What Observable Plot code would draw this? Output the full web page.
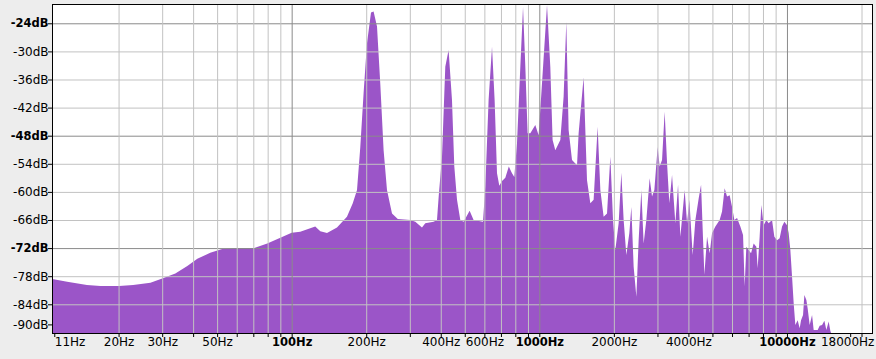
<!DOCTYPE html>
<html><head><meta charset="utf-8">
<script src="https://cdn.jsdelivr.net/npm/d3@7"></script>
<script src="https://cdn.jsdelivr.net/npm/@observablehq/plot@0.6"></script>
<style>
html,body{margin:0;padding:0;background:#ededed;}
#chart{width:876px;height:359px;}
#chart svg{display:block;}
</style>
</head><body><div id="chart"></div>
<script>
// Spectrum (frequency in Hz, level in dB)
const freqs = [
  10.8, 12.4, 14.9, 16.9, 20.1, 22.9, 26.9, 30.0, 33.9, 37.9, 41.6, 46.9, 52.4, 60.3, 70.6, 79.7, 90.0, 100,
  108.3, 124.5, 130.5, 138.9, 152.4, 167.2, 176.5, 183.6, 189.3, 195.2, 201.4, 209.1, 214.2, 221.1, 227.9, 235.1,
  242.6, 254.2, 268.3, 301.3, 315.7, 335.9, 346.4, 374.2, 386.2, 392.7, 404.6, 417.2, 430.2, 444.0, 453.7, 465.2,
  479.7, 494.7, 523.1, 542.8, 592.4, 605.2, 624.1, 644.2, 660.0, 674.8, 689.4, 707.0, 729.0, 753.0, 775.7, 792.5,
  812.6, 838.2, 859.5, 878.1, 897.0, 919.8, 963.4, 993.6, 1025.4, 1074.2, 1107.6, 1131.6, 1160.4, 1215.7, 1253.5,
  1285.4, 1313.2, 1355.4, 1419.9, 1441.3, 1509.8, 1533.9, 1558.2, 1607, 1657, 1720, 1763.8, 1818.6, 1876.9, 1935.7,
  1984.9, 2027.4, 2090.9, 2144.1, 2190.5, 2246.1, 2309.6, 2353.1, 2404, 2465.1, 2518.4, 2582.3, 2638.2, 2705.2,
  2789.5, 2852.5, 2914.2, 3004.9, 3061.5, 3130.7, 3207.3, 3279.8, 3349.7, 3435.5, 3542.7, 3632.8, 3711.5, 3862.5,
  3950, 4035.5, 4162, 4267.7, 4400.5, 4499.9, 4584.6, 4639.9, 4757.7, 4874.2, 4984.2, 5139.4, 5348.1, 5468.9,
  5602.7, 5729.2, 5869.5, 6002, 6132, 6287.7, 6483.1, 6647.8, 6748.1, 6854.9, 7003.3, 7161.4, 7336.7, 7522.8,
  7615.1, 7756.8, 7881.1, 8051.8, 8256.1, 8434.8, 8705.3, 8893.9, 9120.1, 9343.2, 9554.5, 9761.2, 10009, 10160,
  10321, 10486, 10644, 10812, 11046, 11254, 11400, 11614, 11757, 11978, 12123, 12351, 12630, 12820, 13305, 13555,
  13861, 14161, 14425, 14737, 14973, 15300, 22050
];
const levels = [
  -78.6, -79.2, -79.9, -80.1, -80.1, -79.9, -79.4, -78.5, -77.4, -75.8, -74.3, -73.0, -72.2, -72.0, -72.0, -71.0, -69.8, -68.7,
  -68.5, -67.4, -68.4, -68.8, -67.6, -65.3, -62.4, -59.6, -50.4, -38.9, -28.3, -21.7, -21.5, -24.7, -36.8, -51.1,
  -59.6, -64.6, -65.8, -66.0, -66.4, -67.6, -66.7, -66.4, -66.0, -60.7, -52.5, -33.3, -29.7, -40.4, -54.6, -61.7,
  -66.0, -66.4, -64.0, -66.0, -66.4, -58.9, -40.4, -29.0, -40.4, -56.0, -58.7, -57.7, -57.0, -54.6, -56.0, -56.8,
  -49.6, -33.3, -20.5, -33.3, -47.5, -47.5, -45.7, -47.9, -36.8, -20.1, -33.3, -48.9, -51.1, -48.9, -39.7,
  -23.7, -46.8, -53.2, -54.3, -47.5, -35.5, -46.8, -57.5, -62.4, -61.7, -46.1, -59.6, -65.3, -64.6, -52.5,
  -66.0, -72.4, -66.7, -55.9, -66.0, -73.5, -68.8, -63.2, -76.0, -82.4, -70.3, -59.6, -71.0, -66.0,
  -57.1, -61.0, -59.6, -50.4, -54.6, -53.2, -42.9, -53.9, -62.4, -56.4, -66.7, -58.5, -69.6, -59.6,
  -66.7, -61.7, -73.5, -66.0, -61.4, -58.5, -70.3, -77.7, -69.6, -73.1, -68.8, -67.4, -66.0, -64.2,
  -59.2, -61.0, -60.7, -63.2, -66.0, -65.6, -67.4, -69.2, -80.2, -71.7, -72.4, -73.1, -71.0, -71.7,
  -76.3, -69.6, -62.8, -67.1, -66.0, -66.7, -66.0, -69.6, -70.3, -69.9, -67.4, -66.4, -67.1, -68.8,
  -72.4, -78.1, -83.8, -88.4, -87.4, -89.1, -87.4, -86.3, -82.0, -83.1, -84.9, -88.4, -86.3, -89.5, -89.5, -88.6,
  -88.4, -87.5, -89.5, -87.7, -89.7, -91, -91
];

// Axis ticks and labels
const yTicksMajor = [-24, -48, -72];
const yTicksMinor = [-30, -36, -42, -54, -60, -66, -78, -84];
const yTickBottom = [-90];
const xGridMajor = [100, 1000, 10000];
const xGridMinor = [20, 30, 40, 50, 60, 70, 80, 90, 200, 300, 400, 500, 600, 700, 800, 900,
                    2000, 3000, 4000, 5000, 6000, 7000, 8000, 9000, 20000];
const xTickMarks = [11, 18000];
const xLabelsMajor = [100, 1000, 10000];
const xLabelsMinor = [20, 30, 50, 200, 400, 600, 2000, 4000];
const xLabelFirst = [11];
const xLabelLast = [18000];

const xDomain = [10.77, 22050];
const yDomain = [-90.13, -19.88];

const data = freqs.map((f, i) => ({f, db: levels[i]}));
const fmtHz = d => `${d}Hz`;
const fmtDb = d => `${d}dB`;
const minorGrid = "#c2c2c2";
const majorGrid = "#8a8a8a";
const fill = "#9b55c8";

const chart = Plot.plot({
  width: 876, height: 359,
  marginLeft: 52, marginRight: 4, marginTop: 4, marginBottom: 26,
  style: {fontFamily: "'DejaVu Sans', sans-serif", fontSize: "12px", color: "#000", background: "transparent", overflow: "visible"},
  x: {type: "log", domain: xDomain},
  y: {domain: yDomain},
  marks: [
    Plot.frame({fill: "white", stroke: null}),
    Plot.areaY(data, {x: "f", y1: yDomain[0], y2: "db", fill, clip: true}),
    Plot.gridY(yTicksMinor, {stroke: minorGrid, strokeOpacity: 1}),
    Plot.gridY(yTicksMajor, {stroke: majorGrid, strokeOpacity: 1}),
    Plot.gridX(xGridMinor, {stroke: minorGrid, strokeOpacity: 1}),
    Plot.gridX(xGridMajor, {stroke: majorGrid, strokeOpacity: 1}),
    Plot.frame({stroke: "#000"}),
    Plot.axisY(yTicksMajor, {tickSize: 4, tickPadding: 0, tickFormat: fmtDb, fontWeight: "bold", fontSize: 11.5, label: null}),
    Plot.axisY(yTicksMinor, {tickSize: 4, tickPadding: 0, tickFormat: fmtDb, label: null}),
    Plot.axisY(yTickBottom, {tickSize: 4, tickPadding: 0, tickFormat: fmtDb, dy: -8, label: null}),
    Plot.axisX([...xTickMarks, ...xGridMinor, ...xGridMajor], {tickSize: 4, fill: "none", label: null}),
    Plot.text(xLabelsMinor, {x: d => d, text: fmtHz, frameAnchor: "bottom", dy: 12, fill: "#000"}),
    Plot.text(xLabelsMajor, {x: d => d, text: fmtHz, frameAnchor: "bottom", dy: 12, fill: "#000", fontWeight: "bold", fontSize: 11.5}),
    Plot.text(xLabelFirst, {x: d => d, text: fmtHz, frameAnchor: "bottom", dy: 12, fill: "#000", textAnchor: "start"}),
    Plot.text(xLabelLast, {x: d => d, text: fmtHz, frameAnchor: "bottom", dy: 12, dx: -3, fill: "#000"})
  ]
});
document.getElementById("chart").appendChild(chart);
</script>
</body></html>
